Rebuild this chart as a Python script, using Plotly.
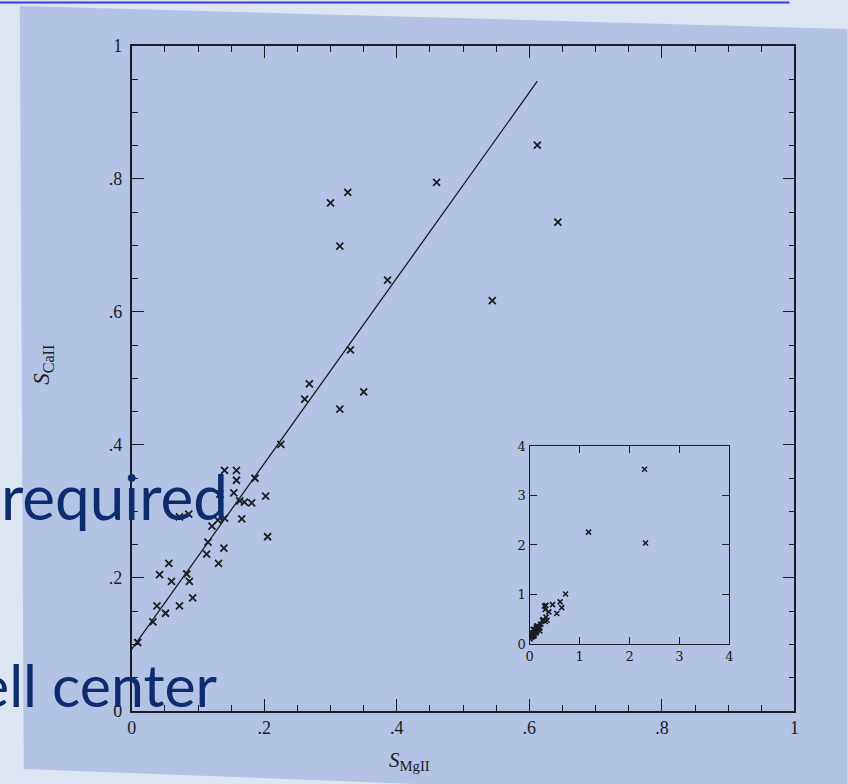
import plotly.graph_objects as go

# ---- data ----
s_mg = [0.300, 0.326, 0.314, 0.460, 0.386, 0.330, 0.350, 0.314, 0.268, 0.261,
        0.612, 0.643, 0.544, 0.225, 0.186,
        0.140, 0.158, 0.158, 0.133, 0.154, 0.202, 0.163, 0.170, 0.181, 0.140,
        0.130, 0.121, 0.166, 0.205, 0.072, 0.086, 0.115, 0.113, 0.139, 0.131,
        0.056, 0.042, 0.083, 0.060, 0.087, 0.092, 0.038, 0.051, 0.072, 0.032,
        0.009]
s_ca = [0.764, 0.780, 0.699, 0.795, 0.648, 0.543, 0.480, 0.454, 0.492, 0.469,
        0.851, 0.735, 0.617, 0.401, 0.350,
        0.362, 0.362, 0.347, 0.326, 0.328, 0.323, 0.316, 0.314, 0.313, 0.290,
        0.287, 0.278, 0.289, 0.262, 0.292, 0.296, 0.254, 0.236, 0.245, 0.222,
        0.222, 0.205, 0.206, 0.195, 0.195, 0.170, 0.158, 0.147, 0.158, 0.134,
        0.103]

fit_x = [0.0, 0.612]
fit_y = [0.093, 0.947]

# extra points only visible in the inset (full range)
extra_mg = [0.72, 1.18, 2.30, 2.32]
extra_ca = [1.01, 2.26, 3.53, 2.04]

main_ticks = [0, 0.2, 0.4, 0.6, 0.8, 1.0]
main_ticktext = ["0", ".2", ".4", ".6", ".8", "1"]
inset_ticks = [0, 1, 2, 3, 4]
inset_ticktext = ["0", "1", "2", "3", "4"]

W, H = 848, 784
INK = "#1c1c22"
SCAN = "#b3c3e5"
SLIDE = "#dde4f2"


# screen-pixel -> paper fraction (with small calibration for the viewer)
def px(x):
    return ((x - 4.2) / 0.991) / W


def py(y):
    return 1 - ((y - 9.0) / 0.9745) / H


fig = go.Figure()

fig.add_trace(go.Scatter(x=fit_x, y=fit_y, mode="lines",
                         line=dict(color=INK, width=1.3),
                         xaxis="x", yaxis="y", showlegend=False, hoverinfo="skip"))
fig.add_trace(go.Scatter(x=s_mg, y=s_ca, mode="markers",
                         marker=dict(symbol="x-thin", size=7,
                                     line=dict(color=INK, width=1.8)),
                         xaxis="x", yaxis="y", showlegend=False))
fig.add_trace(go.Scatter(x=s_mg + extra_mg, y=s_ca + extra_ca, mode="markers",
                         marker=dict(symbol="x-thin", size=5,
                                     line=dict(color=INK, width=1.6)),
                         xaxis="x2", yaxis="y2", showlegend=False))

tickfont = dict(family="Liberation Serif", size=18, color=INK)
inset_font = dict(family="DejaVu Serif", size=13, color=INK)

common_main = dict(range=[0, 1], showgrid=False, zeroline=False,
                   showline=True, linecolor=INK, linewidth=1.6, mirror="ticks",
                   ticks="inside", ticklen=12, tickwidth=1.4, tickcolor=INK,
                   tickvals=main_ticks, ticktext=main_ticktext, tickfont=tickfont,
                   minor=dict(dtick=0.05, tick0=0, ticks="inside", ticklen=6,
                              tickwidth=1.2, tickcolor=INK, showgrid=False))

fig.update_layout(
    width=W, height=H,
    margin=dict(l=0, r=0, t=0, b=0),
    paper_bgcolor=SLIDE,
    plot_bgcolor="rgba(0,0,0,0)",
    xaxis=dict(domain=[px(132), px(795)], anchor="y", **common_main),
    yaxis=dict(domain=[py(710), py(45)], anchor="x", ticklabelstandoff=4,
               **common_main),
    xaxis2=dict(domain=[px(530), px(730)], anchor="y2", range=[0, 4],
                showgrid=False, zeroline=False, showline=True, linecolor=INK,
                linewidth=1.4, mirror="ticks", ticks="inside", ticklen=7,
                tickwidth=1.2, tickcolor=INK, tickvals=inset_ticks,
                ticktext=inset_ticktext, tickfont=inset_font),
    yaxis2=dict(domain=[py(643), py(445)], anchor="x2", range=[0, 4],
                showgrid=False, zeroline=False, showline=True, linecolor=INK,
                linewidth=1.4, mirror="ticks", ticks="inside", ticklen=7,
                tickwidth=1.2, tickcolor=INK, tickvals=inset_ticks,
                ticktext=inset_ticktext, tickfont=inset_font),
    shapes=[
        dict(type="path", xref="paper", yref="paper", layer="below",
             path=f"M {px(20)},{py(5)} L {px(848)},{py(28)} L {px(848)},{py(790)} "
                  f"L {px(600)},{py(790)} L {px(24)},{py(768)} Z",
             fillcolor=SCAN, line=dict(width=0)),
        dict(type="line", xref="paper", yref="paper", layer="above",
             x0=px(0), x1=px(790), y0=py(1.5), y1=py(1.5),
             line=dict(color="#3340dc", width=2)),
    ],
    annotations=[
        dict(text="<i>S</i><sub>MgII</sub>", xref="paper", yref="paper",
             x=px(410), y=py(760), xanchor="center", yanchor="middle",
             showarrow=False,
             font=dict(family="Liberation Serif", size=21, color=INK)),
        dict(text="<i>S</i><sub>CaII</sub>", xref="paper", yref="paper",
             x=px(43), y=py(364), xanchor="center", yanchor="middle",
             showarrow=False, textangle=-90,
             font=dict(family="Liberation Serif", size=23, color=INK)),
        dict(text="required", xref="paper", yref="paper",
             x=px(230), y=py(495), xanchor="right", yanchor="middle",
             showarrow=False,
             font=dict(family="Lato", size=62, color="#0c2c6e")),
        dict(text="ell center", xref="paper", yref="paper",
             x=px(220), y=py(684), xanchor="right", yanchor="middle",
             showarrow=False,
             font=dict(family="Lato", size=59, color="#0c2c6e")),
    ],
)

fig.write_html("out.html")
